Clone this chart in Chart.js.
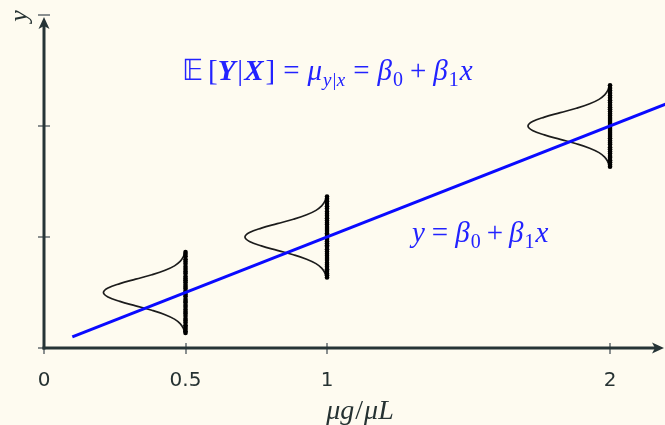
<!DOCTYPE html>
<html>
<head>
<meta charset="utf-8">
<script src="https://cdn.jsdelivr.net/npm/chart.js@4.4.1/dist/chart.umd.min.js"></script>
<style>
  html, body { margin: 0; padding: 0; background: #fefbf0; }
  #wrap { width: 665px; height: 425px; position: relative; }
</style>
</head>
<body>
<div id="wrap"><canvas id="chart"></canvas></div>
<script>
/* Axis ticks */
const xTicks = [0, 0.5, 1, 2];
const xTickLabels = ["0", "0.5", "1", "2"];
const yTicks = [0, 1, 2, 3];

/* Regression line y = b0 + b1 x */
const lineX = [0.1, 2.2];
const lineY = [0.1, 2.2];

/* Conditional distributions: x position and mean of y */
const groupX = [0.5, 1, 2];
const groupMean = [0.5, 1, 2];

/* Density profile (offset from the mean, horizontal width in x units) */
const profileOffset = [-0.36, -0.32, -0.28, -0.24, -0.2, -0.16, -0.12, -0.08, -0.04, 0,
  0.04, 0.08, 0.12, 0.16, 0.2, 0.24, 0.28, 0.32, 0.36];
const profileWidth = [0.003, 0.008, 0.019, 0.039, 0.072, 0.119, 0.176, 0.232, 0.274, 0.29,
  0.274, 0.232, 0.176, 0.119, 0.072, 0.039, 0.019, 0.008, 0.003];

/* Observed y values at each x */
const samples05 = [0.136, 0.152, 0.171, 0.19, 0.206, 0.229, 0.248, 0.263, 0.289, 0.31, 0.327,
  0.346, 0.37, 0.388, 0.41, 0.424, 0.441, 0.466, 0.481, 0.5, 0.514, 0.536, 0.551, 0.57, 0.592,
  0.61, 0.626, 0.645, 0.672, 0.69, 0.711, 0.733, 0.758, 0.779, 0.8, 0.826, 0.846, 0.864];
const samples1 = [0.636, 0.655, 0.672, 0.694, 0.71, 0.731, 0.75, 0.768, 0.792, 0.81, 0.83,
  0.848, 0.869, 0.89, 0.912, 0.926, 0.944, 0.962, 0.983, 1.0, 1.018, 1.034, 1.055, 1.072, 1.09,
  1.112, 1.128, 1.149, 1.17, 1.192, 1.21, 1.23, 1.256, 1.276, 1.3, 1.322, 1.344, 1.364];
const samples2 = [1.634, 1.652, 1.674, 1.692, 1.713, 1.729, 1.752, 1.77, 1.79, 1.808, 1.833,
  1.85, 1.868, 1.889, 1.91, 1.927, 1.946, 1.964, 1.982, 2.0, 2.017, 2.036, 2.054, 2.073, 2.092,
  2.11, 2.131, 2.15, 2.168, 2.19, 2.212, 2.232, 2.254, 2.275, 2.298, 2.32, 2.342, 2.366];
const samples = [samples05, samples1, samples2];

const axisColor = "#263436";
const tickColor = "#8a8f8f";
const blue = "#0a0aff";
const textBlue = "#2222ff";

/* Datasets */
const datasets = [];

datasets.push({
  label: "line",
  data: lineX.map((x, i) => ({ x: x, y: lineY[i] })),
  showLine: true,
  borderColor: blue,
  borderWidth: 3,
  pointRadius: 0,
  clip: false,
  order: 0
});

groupX.forEach((gx, g) => {
  datasets.push({
    label: "density " + gx,
    data: profileOffset.map((d, i) => ({ x: gx - profileWidth[i], y: groupMean[g] + d })),
    showLine: true,
    borderColor: "#1c1c1c",
    borderWidth: 1.7,
    tension: 0.4,
    pointRadius: 0,
    order: 2
  });

  datasets.push({
    label: "points " + gx,
    data: samples[g].map((v) => ({ x: gx, y: v })),
    showLine: false,
    pointRadius: 2.3,
    pointBorderWidth: 0,
    pointBackgroundColor: "#000",
    order: 1
  });
});

/* Draws a run of text pieces with their own fonts and offsets */
function drawPieces(ctx, x, y, pieces, align) {
  let total = 0;
  pieces.forEach((p) => {
    ctx.font = p.f;
    total += ctx.measureText(p.t).width + (p.gap || 0);
  });
  let cx = align === "center" ? x - total / 2 : x;
  ctx.textAlign = "left";
  ctx.textBaseline = "alphabetic";
  pieces.forEach((p) => {
    ctx.font = p.f;
    ctx.fillText(p.t, cx, y + (p.dy || 0));
    cx += ctx.measureText(p.t).width + (p.gap || 0);
  });
}

function arrowHead(ctx, tipX, tipY, dir) {
  // dir: "up" or "right"
  const len = 12, half = 5.5, notch = 3;
  ctx.beginPath();
  if (dir === "up") {
    ctx.moveTo(tipX, tipY);
    ctx.lineTo(tipX + half, tipY + len);
    ctx.lineTo(tipX, tipY + len - notch);
    ctx.lineTo(tipX - half, tipY + len);
  } else {
    ctx.moveTo(tipX, tipY);
    ctx.lineTo(tipX - len, tipY - half);
    ctx.lineTo(tipX - len + notch, tipY);
    ctx.lineTo(tipX - len, tipY + half);
  }
  ctx.closePath();
  ctx.fill();
}

const axesPlugin = {
  id: "axes",
  afterDraw(chart) {
    const ctx = chart.ctx;
    const xs = chart.scales.x;
    const ys = chart.scales.y;
    const ox = xs.getPixelForValue(0);
    const oy = ys.getPixelForValue(0);
    const area = chart.chartArea;
    const rightEnd = chart.width - 1;

    ctx.save();

    /* ticks */
    ctx.strokeStyle = tickColor;
    ctx.lineWidth = 2;
    xTicks.forEach((v) => {
      const px = Math.round(xs.getPixelForValue(v));
      ctx.beginPath();
      ctx.moveTo(px, oy - 5);
      ctx.lineTo(px, oy + 6);
      ctx.stroke();
    });
    yTicks.forEach((v) => {
      const py = Math.round(ys.getPixelForValue(v));
      ctx.beginPath();
      ctx.moveTo(ox - 6, py);
      ctx.lineTo(ox + 6, py);
      ctx.stroke();
    });

    /* axis lines */
    ctx.strokeStyle = axisColor;
    ctx.fillStyle = axisColor;
    ctx.lineWidth = 3;
    ctx.beginPath();
    ctx.moveTo(ox, oy + 1.5);
    ctx.lineTo(ox, area.top + 10);
    ctx.stroke();
    ctx.beginPath();
    ctx.moveTo(ox - 1.5, oy);
    ctx.lineTo(rightEnd - 9, oy);
    ctx.stroke();
    arrowHead(ctx, ox, area.top + 2, "up");
    arrowHead(ctx, rightEnd, oy, "right");

    /* tick labels */
    ctx.fillStyle = "#263232";
    ctx.font = '20px "DejaVu Sans"';
    ctx.textAlign = "center";
    ctx.textBaseline = "alphabetic";
    xTicks.forEach((v, i) => {
      ctx.fillText(xTickLabels[i], xs.getPixelForValue(v), oy + 38);
    });

    /* axis titles */
    const it = 'italic 28px "Liberation Serif"';
    drawPieces(ctx, 360, 419, [
      { t: "\u03bc", f: it }, { t: "g", f: it, gap: 1 }, { t: "/", f: '28px "Liberation Serif"', gap: 1 },
      { t: "\u03bc", f: it }, { t: "L", f: it }
    ], "center");

    ctx.save();
    ctx.translate(27, 16);
    ctx.rotate(-Math.PI / 2);
    ctx.font = 'italic 26px "Liberation Serif"';
    ctx.textAlign = "center";
    ctx.fillText("y", 0, 0);
    ctx.restore();

    /* formulas */
    ctx.fillStyle = textBlue;
    const fs = 29;
    const up = fs + 'px "Liberation Serif"';
    const ital = "italic " + up;
    const bold = "bold italic " + up;
    const sub = 'italic ' + Math.round(fs * 0.65) + 'px "Liberation Serif"';
    const subUp = Math.round(fs * 0.7) + 'px "Liberation Serif"';
    drawPieces(ctx, 182, 80, [
      { t: "\ud835\udd3c", f: up, gap: 5 },
      { t: "[", f: up }, { t: "Y", f: bold, gap: 2 }, { t: "|", f: up, gap: 1 }, { t: "X", f: bold, gap: 2 },
      { t: "]", f: up, gap: 8 },
      { t: "=", f: up, gap: 8 },
      { t: "\u03bc", f: ital, gap: 1 }, { t: "y|x", f: sub, dy: 6, gap: 8 },
      { t: "=", f: up, gap: 8 },
      { t: "\u03b2", f: ital, gap: 1 }, { t: "0", f: subUp, dy: 6, gap: 7 },
      { t: "+", f: up, gap: 7 },
      { t: "\u03b2", f: ital, gap: 1 }, { t: "1", f: subUp, dy: 6, gap: 1 },
      { t: "x", f: ital }
    ], "left");

    drawPieces(ctx, 412, 242, [
      { t: "y", f: ital, gap: 7 },
      { t: "=", f: up, gap: 7 },
      { t: "\u03b2", f: ital, gap: 1 }, { t: "0", f: subUp, dy: 6, gap: 6 },
      { t: "+", f: up, gap: 6 },
      { t: "\u03b2", f: ital, gap: 1 }, { t: "1", f: subUp, dy: 6, gap: 1 },
      { t: "x", f: ital }
    ], "left");

    ctx.restore();
  }
};

new Chart(document.getElementById("chart"), {
  type: "scatter",
  data: { datasets: datasets },
  options: {
    responsive: true,
    maintainAspectRatio: false,
    devicePixelRatio: 1,
    animation: false,
    layout: { padding: { left: 44, right: 0, top: 15, bottom: 77 } },
    plugins: { legend: { display: false }, tooltip: { enabled: false } },
    scales: {
      x: { type: "linear", min: 0, max: 2.18, display: false },
      y: { type: "linear", min: 0, max: 3, display: false }
    }
  },
  plugins: [axesPlugin]
});
</script>
</body>
</html>
